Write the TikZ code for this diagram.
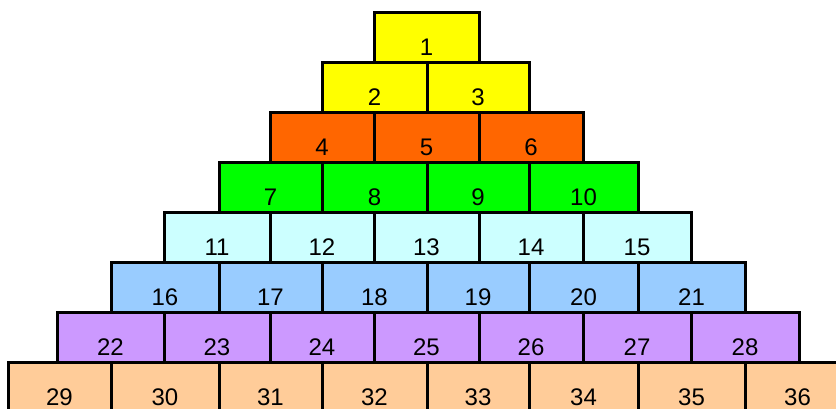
\documentclass[tikz,border=0pt]{standalone}
\usepackage{fontspec}
\setmainfont{Liberation Sans}
\definecolor{cyel}{HTML}{FFFF00}
\definecolor{corg}{HTML}{FF6600}
\definecolor{cgrn}{HTML}{00FF00}
\definecolor{ccyn}{HTML}{CCFFFF}
\definecolor{cblu}{HTML}{99CCFF}
\definecolor{cpur}{HTML}{CC99FF}
\definecolor{cpch}{HTML}{FFCC99}
\tikzset{
  pblk/.style={draw=black, line width=3pt, rectangle, inner sep=0pt, outer sep=0pt,
    minimum height=50pt, text height=36pt, text depth=0pt,
    font=\fontsize{24}{24}\selectfont}
}
\newcommand\pbox[6]{%
  \node[pblk, fill=#5, minimum width={(#3-#2)*1pt}] (#1) at ({(#2+#3)/2},{#4+25}) {#6};}
\begin{document}
\begin{tikzpicture}[x=1pt,y=-1pt]
\useasboundingbox (0,0) rectangle (836,408);
\clip (0,0) rectangle (836,408);
% row 1
\pbox{b1}{374}{479}{12}{cyel}{1}
% row 2
\pbox{b2}{322}{427}{62}{cyel}{2}
\pbox{b3}{427}{529}{62}{cyel}{3}
% row 3
\pbox{b4}{270}{374}{112}{corg}{4}
\pbox{b5}{374}{479}{112}{corg}{5}
\pbox{b6}{479}{583}{112}{corg}{6}
% row 4
\pbox{b7}{219}{322}{162}{cgrn}{7}
\pbox{b8}{322}{427}{162}{cgrn}{8}
\pbox{b9}{427}{529}{162}{cgrn}{9}
\pbox{b10}{529}{638}{162}{cgrn}{10}
% row 5
\pbox{b11}{164}{270}{212}{ccyn}{11}
\pbox{b12}{270}{374}{212}{ccyn}{12}
\pbox{b13}{374}{479}{212}{ccyn}{13}
\pbox{b14}{479}{583}{212}{ccyn}{14}
\pbox{b15}{583}{691}{212}{ccyn}{15}
% row 6
\pbox{b16}{111}{219}{262}{cblu}{16}
\pbox{b17}{219}{322}{262}{cblu}{17}
\pbox{b18}{322}{427}{262}{cblu}{18}
\pbox{b19}{427}{529}{262}{cblu}{19}
\pbox{b20}{529}{638}{262}{cblu}{20}
\pbox{b21}{638}{745}{262}{cblu}{21}
% row 7
\pbox{b22}{57}{164}{312}{cpur}{22}
\pbox{b23}{164}{270}{312}{cpur}{23}
\pbox{b24}{270}{374}{312}{cpur}{24}
\pbox{b25}{374}{479}{312}{cpur}{25}
\pbox{b26}{479}{583}{312}{cpur}{26}
\pbox{b27}{583}{691}{312}{cpur}{27}
\pbox{b28}{691}{799}{312}{cpur}{28}
% row 8
\pbox{b29}{8}{111}{362}{cpch}{29}
\pbox{b30}{111}{219}{362}{cpch}{30}
\pbox{b31}{219}{322}{362}{cpch}{31}
\pbox{b32}{322}{427}{362}{cpch}{32}
\pbox{b33}{427}{529}{362}{cpch}{33}
\pbox{b34}{529}{638}{362}{cpch}{34}
\pbox{b35}{638}{745}{362}{cpch}{35}
\pbox{b36}{745}{850}{362}{cpch}{36}
\end{tikzpicture}
\end{document}
